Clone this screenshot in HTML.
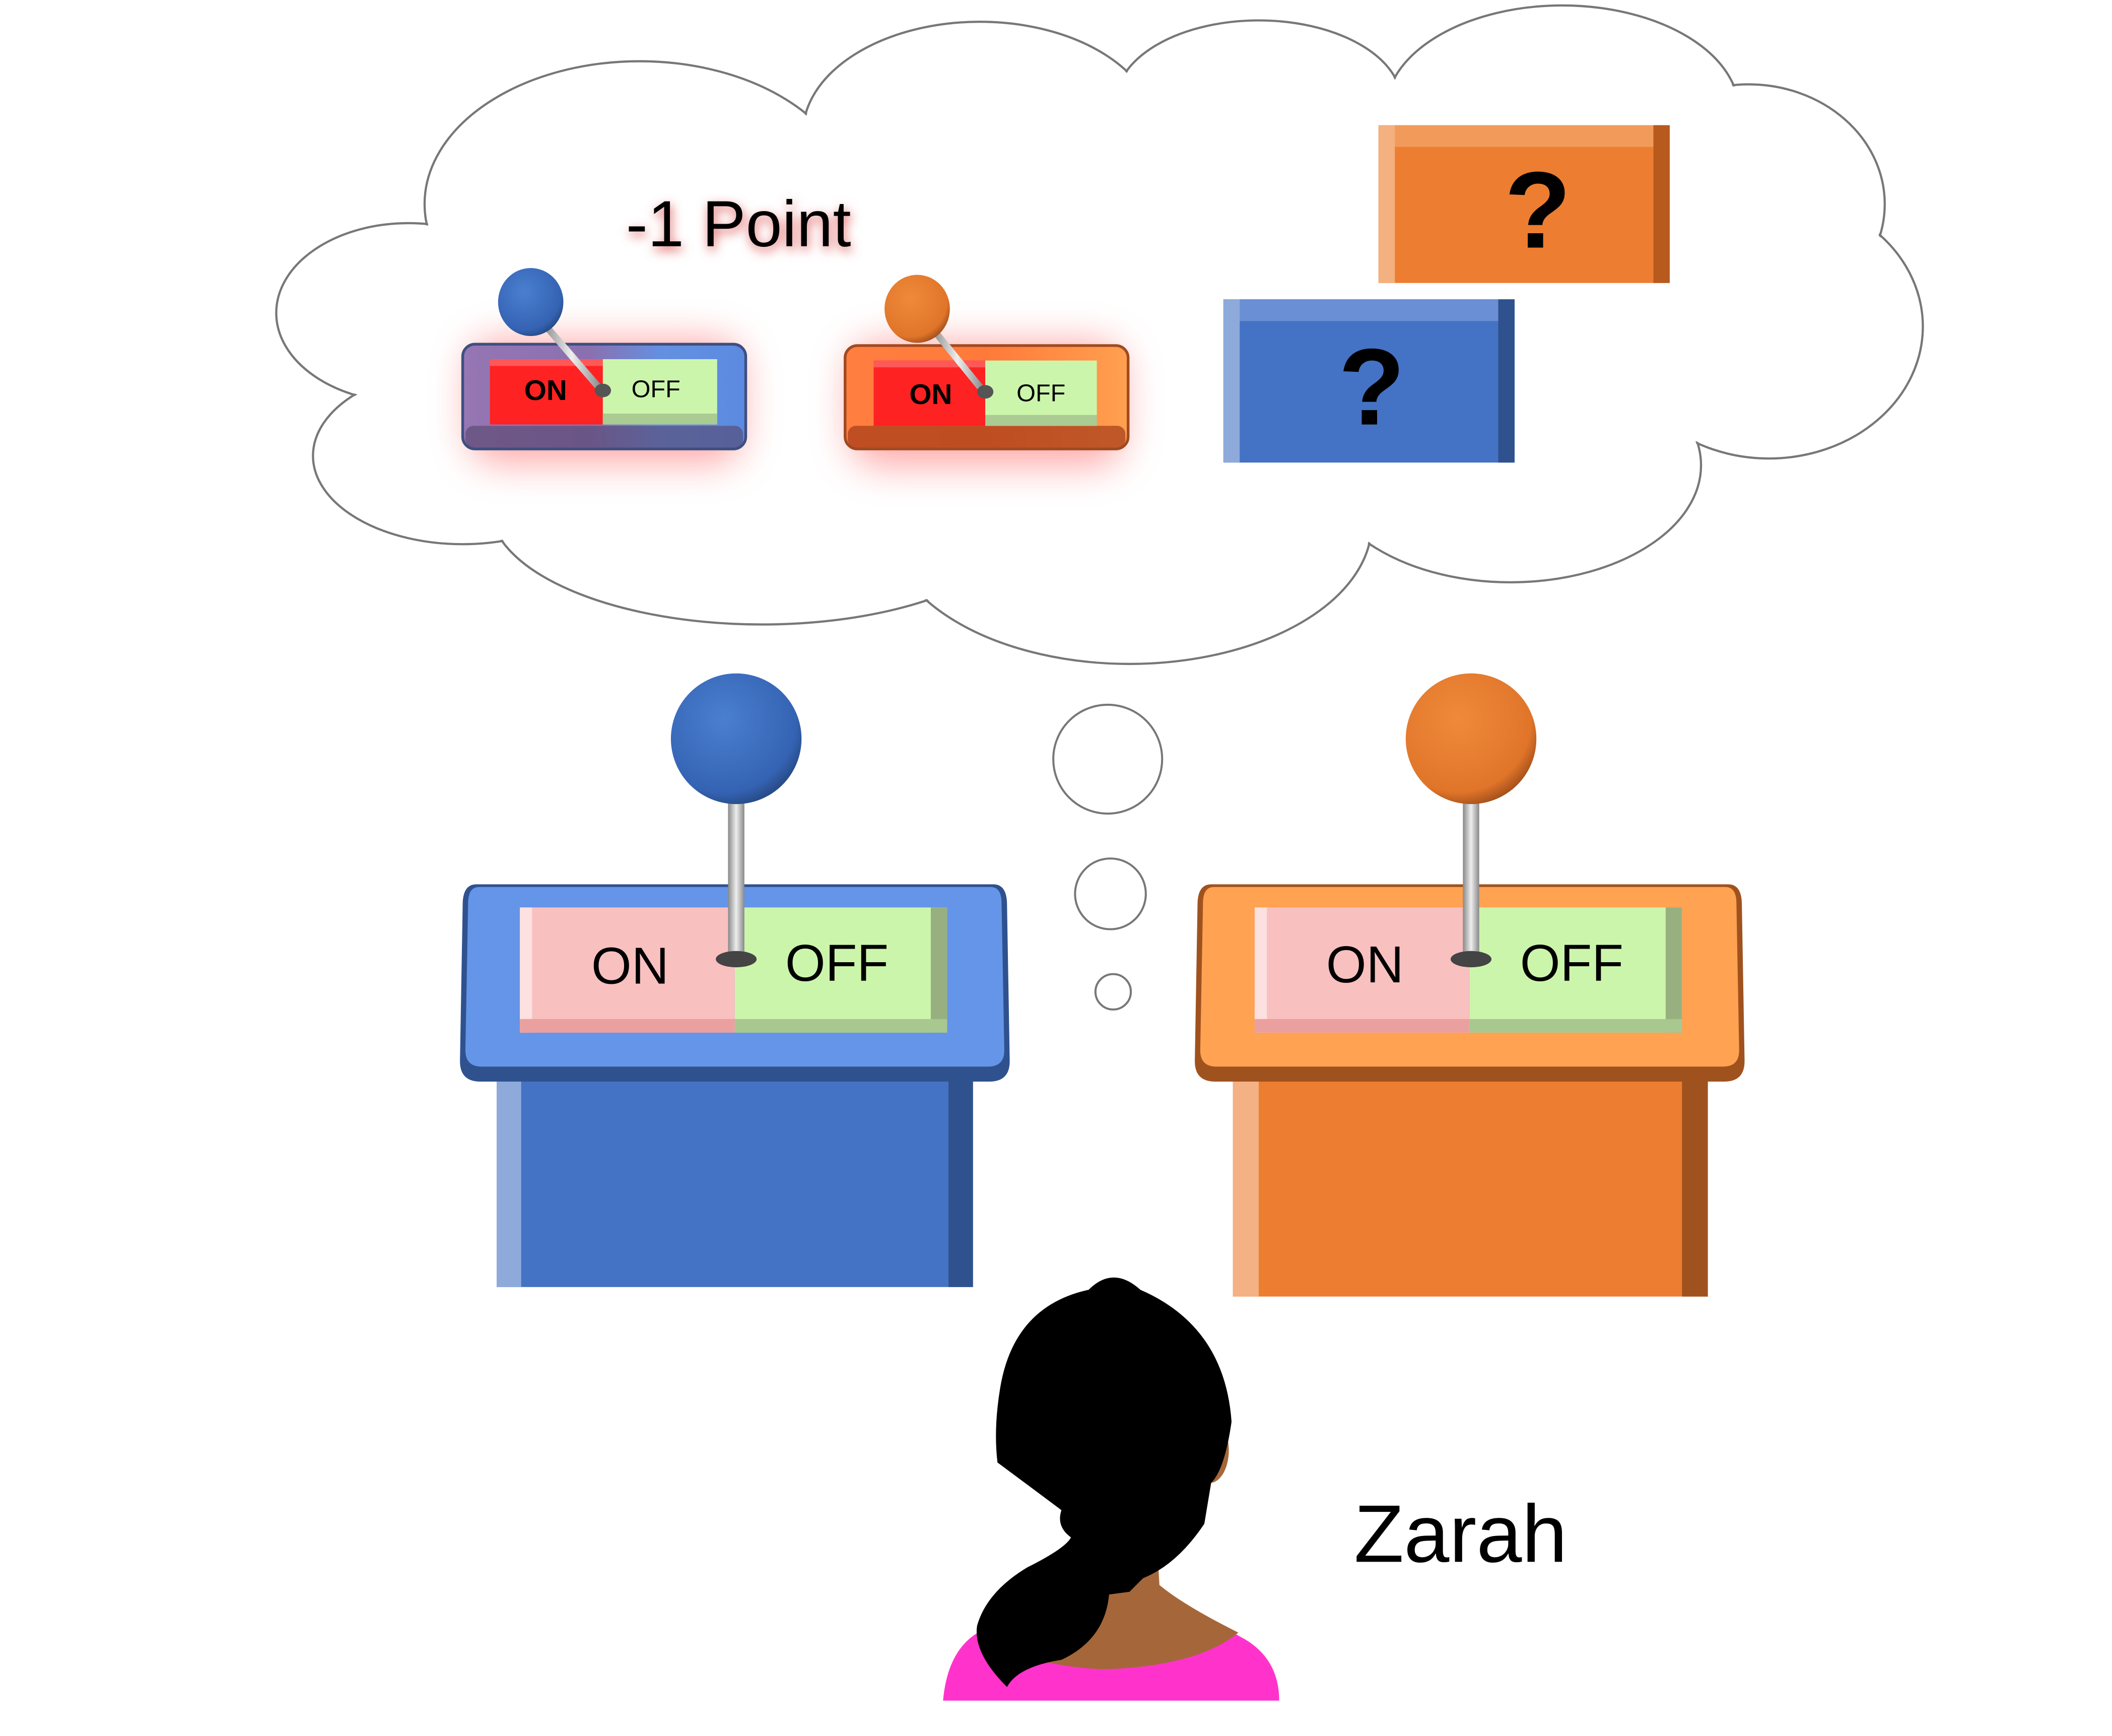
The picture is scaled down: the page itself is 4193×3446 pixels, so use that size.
<!DOCTYPE html>
<html><head><meta charset="utf-8"><style>html,body{margin:0;padding:0;background:#fff}svg{display:block}</style></head>
<body>
<svg width="4193" height="3446" viewBox="0 0 1552 1276" preserveAspectRatio="none" xmlns="http://www.w3.org/2000/svg">
<defs>
<radialGradient id="bk" cx="0.4" cy="0.35" r="0.7"><stop offset="0" stop-color="#4a7fd0"/><stop offset="0.8" stop-color="#3563b3"/><stop offset="1" stop-color="#24467f"/></radialGradient>
<radialGradient id="ok" cx="0.4" cy="0.35" r="0.7"><stop offset="0" stop-color="#f08a3a"/><stop offset="0.8" stop-color="#e0752a"/><stop offset="1" stop-color="#9a4a18"/></radialGradient>
<linearGradient id="st" x1="0" x2="1"><stop offset="0" stop-color="#888"/><stop offset="0.5" stop-color="#eee"/><stop offset="1" stop-color="#888"/></linearGradient>
<linearGradient id="sbp" x1="0" x2="1"><stop offset="0" stop-color="#9676b3"/><stop offset="0.45" stop-color="#8a70b0"/><stop offset="0.7" stop-color="#6490e0"/><stop offset="1" stop-color="#5b8ae0"/></linearGradient>
<linearGradient id="sop" x1="0" x2="1"><stop offset="0" stop-color="#ff7e40"/><stop offset="0.5" stop-color="#ff7a3a"/><stop offset="1" stop-color="#ffa050"/></linearGradient>
<filter id="glow" x="-50%" y="-50%" width="200%" height="200%"><feGaussianBlur stdDeviation="14"/></filter>
<filter id="tg" x="-20%" y="-40%" width="140%" height="180%"><feGaussianBlur stdDeviation="4"/></filter>
</defs>

<g fill="none" stroke="#777" stroke-width="1.6">
<ellipse cx="300" cy="230" rx="97" ry="66"/>
<ellipse cx="470" cy="150" rx="158" ry="105"/>
<ellipse cx="720" cy="98" rx="130" ry="82"/>
<ellipse cx="925" cy="75" rx="105" ry="60"/>
<ellipse cx="1148" cy="82" rx="130" ry="78"/>
<ellipse cx="1285" cy="150" rx="100" ry="88"/>
<ellipse cx="1300" cy="240" rx="113" ry="97"/>
<ellipse cx="1110" cy="342" rx="140" ry="86"/>
<ellipse cx="830" cy="385" rx="178" ry="103"/>
<ellipse cx="560" cy="372" rx="200" ry="87"/>
<ellipse cx="340" cy="335" rx="110" ry="65"/>
</g>
<g fill="#fff">
<ellipse cx="300" cy="230" rx="96" ry="65"/>
<ellipse cx="470" cy="150" rx="157" ry="104"/>
<ellipse cx="720" cy="98" rx="129" ry="81"/>
<ellipse cx="925" cy="75" rx="104" ry="59"/>
<ellipse cx="1148" cy="82" rx="129" ry="77"/>
<ellipse cx="1285" cy="150" rx="99" ry="87"/>
<ellipse cx="1300" cy="240" rx="112" ry="96"/>
<ellipse cx="1110" cy="342" rx="139" ry="85"/>
<ellipse cx="830" cy="385" rx="177" ry="102"/>
<ellipse cx="560" cy="372" rx="199" ry="86"/>
<ellipse cx="340" cy="335" rx="109" ry="64"/>
<ellipse cx="790" cy="240" rx="480" ry="160"/>
</g>

<text x="461" y="184" font-family="Liberation Sans, sans-serif" font-size="48" fill="#e06060" filter="url(#tg)">-1 Point</text>
<text x="460" y="181" font-family="Liberation Sans, sans-serif" font-size="48" fill="#000">-1 Point</text>

<rect x="345" y="250" width="200" height="90" rx="20" fill="#ff6060" opacity="0.55" filter="url(#glow)"/>
<rect x="340" y="253" width="208" height="77" rx="9" fill="url(#sbp)" stroke="#3d4f80" stroke-width="2"/>
<rect x="342" y="313" width="204" height="16" rx="6" fill="#55456a" opacity="0.6"/>
<rect x="360" y="264" width="83" height="48" fill="#ff2222"/>
<rect x="360" y="264" width="83" height="5" fill="#ff5858"/>
<rect x="443" y="264" width="84" height="48" fill="#ccf5ac"/>
<rect x="443" y="304" width="84" height="8" fill="#aacb92"/>
<text x="401" y="294" text-anchor="middle" font-family="Liberation Sans, sans-serif" font-weight="bold" font-size="21">ON</text>
<text x="482" y="292" text-anchor="middle" font-family="Liberation Sans, sans-serif" font-size="18">OFF</text>
<line x1="398" y1="236" x2="442" y2="287" stroke="url(#st)" stroke-width="5"/>
<ellipse cx="443" cy="287" rx="6" ry="5" fill="#555"/>
<ellipse cx="390" cy="222" rx="24" ry="25" fill="url(#bk)"/>

<rect x="625" y="252" width="200" height="90" rx="20" fill="#ff6060" opacity="0.55" filter="url(#glow)"/>
<rect x="621" y="254" width="208" height="76" rx="9" fill="url(#sop)" stroke="#a04a20" stroke-width="2"/>
<rect x="623" y="313" width="204" height="16" rx="6" fill="#a43a18" opacity="0.7"/>
<rect x="642" y="265" width="82" height="48" fill="#ff2222"/>
<rect x="642" y="265" width="82" height="5" fill="#ff5858"/>
<rect x="724" y="265" width="82" height="48" fill="#ccf5ac"/>
<rect x="724" y="305" width="82" height="8" fill="#aacb92"/>
<text x="684" y="297" text-anchor="middle" font-family="Liberation Sans, sans-serif" font-weight="bold" font-size="21">ON</text>
<text x="765" y="295" text-anchor="middle" font-family="Liberation Sans, sans-serif" font-size="18">OFF</text>
<line x1="684" y1="240" x2="723" y2="288" stroke="url(#st)" stroke-width="5"/>
<ellipse cx="724" cy="288" rx="6" ry="5" fill="#555"/>
<ellipse cx="674" cy="227" rx="24" ry="25" fill="url(#ok)"/>

<rect x="1013" y="92" width="214" height="116" fill="#ed7d31"/>
<polygon points="1013,92 1227,92 1215,108 1025,108" fill="#f29a5a"/>
<rect x="1013" y="92" width="12" height="116" fill="#f4b07e"/>
<rect x="1215" y="92" width="12" height="116" fill="#b85a1e"/>
<text x="1130" y="182" text-anchor="middle" font-family="Liberation Sans, sans-serif" font-weight="bold" font-size="80">?</text>
<rect x="899" y="220" width="214" height="120" fill="#4472c4"/>
<polygon points="899,220 1113,220 1101,236 911,236" fill="#6a8fd4"/>
<rect x="899" y="220" width="12" height="120" fill="#8eaadb"/>
<rect x="1101" y="220" width="12" height="120" fill="#2f528f"/>
<text x="1008" y="312" text-anchor="middle" font-family="Liberation Sans, sans-serif" font-weight="bold" font-size="80">?</text>

<g fill="#fff" stroke="#777" stroke-width="1.5">
<circle cx="814" cy="558" r="40"/><circle cx="816" cy="657" r="26"/><circle cx="818" cy="729" r="13"/>
</g>

<rect x="365" y="790" width="350" height="156" fill="#4472c4"/>
<rect x="365" y="790" width="18" height="156" fill="#8eaadb"/>
<rect x="697" y="790" width="18" height="156" fill="#2f528f"/>
<path d="M350,650 H730 Q740,650 740,665 L742,780 Q742,795 727,795 H353 Q338,795 338,780 L340,665 Q340,650 350,650 Z" fill="#2f528f"/>
<path d="M352,652 H728 Q736,652 736,664 L738,772 Q738,784 726,784 H354 Q342,784 342,772 L344,664 Q344,652 352,652 Z" fill="#6495e8"/>
<rect x="382" y="667" width="158" height="92" fill="#f9c0c0"/>
<rect x="382" y="667" width="9" height="92" fill="#fde0e0"/>
<rect x="382" y="749" width="158" height="10" fill="#eba0a0"/>
<rect x="540" y="667" width="156" height="92" fill="#ccf5ac"/>
<rect x="684" y="667" width="12" height="92" fill="#98b080"/>
<rect x="540" y="749" width="156" height="10" fill="#a8c890"/>
<text x="463" y="723" text-anchor="middle" font-family="Liberation Sans, sans-serif" font-size="38">ON</text>
<text x="615" y="721" text-anchor="middle" font-family="Liberation Sans, sans-serif" font-size="38">OFF</text>
<rect x="535" y="585" width="12" height="120" fill="url(#st)"/>
<ellipse cx="541" cy="705" rx="15" ry="6" fill="#444"/>
<circle cx="541" cy="543" r="48" fill="url(#bk)"/>

<rect x="906" y="790" width="349" height="163" fill="#ed7d31"/>
<rect x="906" y="790" width="19" height="163" fill="#f4b183"/>
<rect x="1236" y="790" width="19" height="163" fill="#a0521e"/>
<path d="M890,650 H1270 Q1280,650 1280,665 L1282,780 Q1282,795 1267,795 H893 Q878,795 878,780 L880,665 Q880,650 890,650 Z" fill="#a0521e"/>
<path d="M892,652 H1268 Q1276,652 1276,664 L1278,772 Q1278,784 1266,784 H894 Q882,784 882,772 L884,664 Q884,652 892,652 Z" fill="#ffa252"/>
<rect x="922" y="667" width="158" height="92" fill="#f9c0c0"/>
<rect x="922" y="667" width="9" height="92" fill="#fde0e0"/>
<rect x="922" y="749" width="158" height="10" fill="#eba0a0"/>
<rect x="1080" y="667" width="156" height="92" fill="#ccf5ac"/>
<rect x="1224" y="667" width="12" height="92" fill="#98b080"/>
<rect x="1080" y="749" width="156" height="10" fill="#a8c890"/>
<text x="1003" y="722" text-anchor="middle" font-family="Liberation Sans, sans-serif" font-size="38">ON</text>
<text x="1155" y="721" text-anchor="middle" font-family="Liberation Sans, sans-serif" font-size="38">OFF</text>
<rect x="1075" y="585" width="12" height="120" fill="url(#st)"/>
<ellipse cx="1081" cy="705" rx="15" ry="6" fill="#444"/>
<circle cx="1081" cy="543" r="48" fill="url(#ok)"/>

<path d="M693,1250 Q697,1205 730,1195 L780,1182 L810,1160 L850,1160 L852,1170 L915,1205 Q940,1220 940,1250 Z" fill="#ff33cc"/>
<path d="M780,1180 L810,1130 L850,1130 L852,1165 Q870,1180 910,1200 Q880,1225 810,1227 Q770,1225 735,1212 Z" fill="#a5673a"/>
<ellipse cx="889" cy="1066" rx="14" ry="24" fill="#a5673a"/>
<path d="M800,948 Q818,930 838,948 Q900,975 905,1045 Q900,1080 890,1090 L885,1120 Q865,1150 840,1160 L830,1170 L815,1172 Q812,1205 780,1220 Q748,1225 740,1240 Q715,1215 718,1195 Q725,1170 755,1152 Q783,1138 787,1130 Q776,1122 780,1110 Q760,1095 733,1075 Q730,1050 735,1020 Q745,960 800,948 Z" fill="#000"/>

<text x="995" y="1148" font-family="Liberation Sans, sans-serif" font-size="60">Zarah</text>
</svg>
</body></html>
